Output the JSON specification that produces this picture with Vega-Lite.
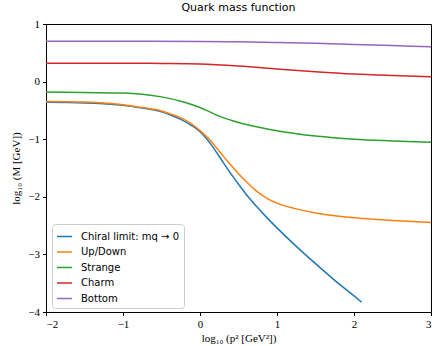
{
  "$schema": "https://vega.github.io/schema/vega-lite/v6.json",
  "width": 385,
  "height": 288,
  "autosize": {"type": "none"},
  "padding": {"left": 46, "top": 24, "right": 5, "bottom": 34},
  "background": "white",
  "title": {"text": "Quark mass function", "font": "DejaVu Sans", "fontSize": 11, "fontWeight": "normal", "color": "black", "offset": 5},
  "config": {
    "view": {"stroke": "black", "strokeWidth": 1},
    "axis": {"grid": false, "domainColor": "black", "tickColor": "black", "tickSize": 3.5, "labelFont": "Liberation Serif", "labelFontSize": 11, "labelColor": "black", "titleFont": "Liberation Serif", "titleFontSize": 11, "titleFontWeight": "normal", "titleColor": "black", "labelPadding": 3}
  },
  "data": {"values": [
    {"s": "Chiral limit: mq → 0", "x": -2, "y": -0.36},
    {"s": "Chiral limit: mq → 0", "x": -1.5, "y": -0.37},
    {"s": "Chiral limit: mq → 0", "x": -1.25, "y": -0.385},
    {"s": "Chiral limit: mq → 0", "x": -1, "y": -0.41},
    {"s": "Chiral limit: mq → 0", "x": -0.75, "y": -0.46},
    {"s": "Chiral limit: mq → 0", "x": -0.5, "y": -0.525},
    {"s": "Chiral limit: mq → 0", "x": -0.375, "y": -0.585},
    {"s": "Chiral limit: mq → 0", "x": -0.25, "y": -0.655},
    {"s": "Chiral limit: mq → 0", "x": -0.125, "y": -0.75},
    {"s": "Chiral limit: mq → 0", "x": 0, "y": -0.87},
    {"s": "Chiral limit: mq → 0", "x": 0.125, "y": -1.06},
    {"s": "Chiral limit: mq → 0", "x": 0.25, "y": -1.3},
    {"s": "Chiral limit: mq → 0", "x": 0.375, "y": -1.55},
    {"s": "Chiral limit: mq → 0", "x": 0.5, "y": -1.78},
    {"s": "Chiral limit: mq → 0", "x": 0.625, "y": -2.0},
    {"s": "Chiral limit: mq → 0", "x": 0.75, "y": -2.19},
    {"s": "Chiral limit: mq → 0", "x": 0.875, "y": -2.37},
    {"s": "Chiral limit: mq → 0", "x": 1, "y": -2.54},
    {"s": "Chiral limit: mq → 0", "x": 1.25, "y": -2.86},
    {"s": "Chiral limit: mq → 0", "x": 1.5, "y": -3.16},
    {"s": "Chiral limit: mq → 0", "x": 1.75, "y": -3.45},
    {"s": "Chiral limit: mq → 0", "x": 2, "y": -3.72},
    {"s": "Chiral limit: mq → 0", "x": 2.1, "y": -3.83},
    {"s": "Up/Down", "x": -2, "y": -0.345},
    {"s": "Up/Down", "x": -1.5, "y": -0.355},
    {"s": "Up/Down", "x": -1.25, "y": -0.37},
    {"s": "Up/Down", "x": -1, "y": -0.4},
    {"s": "Up/Down", "x": -0.75, "y": -0.45},
    {"s": "Up/Down", "x": -0.5, "y": -0.51},
    {"s": "Up/Down", "x": -0.375, "y": -0.565},
    {"s": "Up/Down", "x": -0.25, "y": -0.63},
    {"s": "Up/Down", "x": -0.125, "y": -0.72},
    {"s": "Up/Down", "x": 0, "y": -0.85},
    {"s": "Up/Down", "x": 0.125, "y": -1.01},
    {"s": "Up/Down", "x": 0.25, "y": -1.21},
    {"s": "Up/Down", "x": 0.375, "y": -1.41},
    {"s": "Up/Down", "x": 0.5, "y": -1.6},
    {"s": "Up/Down", "x": 0.625, "y": -1.77},
    {"s": "Up/Down", "x": 0.75, "y": -1.92},
    {"s": "Up/Down", "x": 0.875, "y": -2.03},
    {"s": "Up/Down", "x": 1, "y": -2.11},
    {"s": "Up/Down", "x": 1.25, "y": -2.21},
    {"s": "Up/Down", "x": 1.5, "y": -2.28},
    {"s": "Up/Down", "x": 1.75, "y": -2.33},
    {"s": "Up/Down", "x": 2, "y": -2.365},
    {"s": "Up/Down", "x": 2.25, "y": -2.39},
    {"s": "Up/Down", "x": 2.5, "y": -2.41},
    {"s": "Up/Down", "x": 2.75, "y": -2.43},
    {"s": "Up/Down", "x": 3, "y": -2.445},
    {"s": "Strange", "x": -2, "y": -0.18},
    {"s": "Strange", "x": -1.5, "y": -0.19},
    {"s": "Strange", "x": -1, "y": -0.2},
    {"s": "Strange", "x": -0.75, "y": -0.22},
    {"s": "Strange", "x": -0.5, "y": -0.265},
    {"s": "Strange", "x": -0.25, "y": -0.34},
    {"s": "Strange", "x": 0, "y": -0.45},
    {"s": "Strange", "x": 0.125, "y": -0.525},
    {"s": "Strange", "x": 0.25, "y": -0.6},
    {"s": "Strange", "x": 0.5, "y": -0.71},
    {"s": "Strange", "x": 0.75, "y": -0.79},
    {"s": "Strange", "x": 1, "y": -0.855},
    {"s": "Strange", "x": 1.25, "y": -0.905},
    {"s": "Strange", "x": 1.5, "y": -0.945},
    {"s": "Strange", "x": 2, "y": -1.0},
    {"s": "Strange", "x": 2.5, "y": -1.03},
    {"s": "Strange", "x": 3, "y": -1.055},
    {"s": "Charm", "x": -2, "y": 0.32},
    {"s": "Charm", "x": -1, "y": 0.32},
    {"s": "Charm", "x": -0.5, "y": 0.315},
    {"s": "Charm", "x": 0, "y": 0.305},
    {"s": "Charm", "x": 0.5, "y": 0.27},
    {"s": "Charm", "x": 1, "y": 0.22},
    {"s": "Charm", "x": 1.5, "y": 0.17},
    {"s": "Charm", "x": 2, "y": 0.13},
    {"s": "Charm", "x": 2.5, "y": 0.105},
    {"s": "Charm", "x": 3, "y": 0.085},
    {"s": "Bottom", "x": -2, "y": 0.7},
    {"s": "Bottom", "x": -1, "y": 0.7},
    {"s": "Bottom", "x": 0, "y": 0.695},
    {"s": "Bottom", "x": 0.5, "y": 0.69},
    {"s": "Bottom", "x": 1, "y": 0.68},
    {"s": "Bottom", "x": 1.5, "y": 0.665},
    {"s": "Bottom", "x": 2, "y": 0.645},
    {"s": "Bottom", "x": 2.5, "y": 0.625},
    {"s": "Bottom", "x": 3, "y": 0.605}
  ]},
  "mark": {"type": "line", "strokeWidth": 1.5, "interpolate": "monotone"},
  "encoding": {
    "x": {"field": "x", "type": "quantitative", "scale": {"domain": [-2, 3], "nice": false, "zero": false},
      "axis": {"values": [-2, -1, 0, 1, 2, 3], "title": "log₁₀ (p² [GeV²])", "titlePadding": 3}},
    "y": {"field": "y", "type": "quantitative", "scale": {"domain": [-4, 1], "nice": false, "zero": false},
      "axis": {"values": [-4, -3, -2, -1, 0, 1], "title": "log₁₀ (M [GeV])", "titlePadding": 6}},
    "color": {"field": "s", "type": "nominal",
      "scale": {"domain": ["Chiral limit: mq → 0", "Up/Down", "Strange", "Charm", "Bottom"], "range": ["#1f77b4", "#ff7f0e", "#2ca02c", "#d62728", "#9467bd"]},
      "legend": {"title": null, "orient": "none", "legendX": 6, "legendY": 200, "symbolType": "stroke", "symbolSize": 225, "symbolStrokeWidth": 1.5, "labelFont": "DejaVu Sans", "labelFontSize": 10, "labelColor": "black", "strokeColor": "#cccccc", "fillColor": "white", "padding": 4, "cornerRadius": 3, "rowPadding": 1.5, "labelOffset": 8}
    }
  }
}
